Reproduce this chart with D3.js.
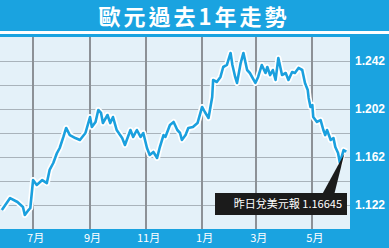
<!DOCTYPE html>
<html>
<head>
    <meta charset="utf-8">
    <title>歐元過去1年走勢</title>
    <script type="text/javascript" src="https://cdn.jsdelivr.net/npm/d3@7/dist/d3.min.js"></script>

    <style type="text/css">
        body {
            margin: 0;
        }

        svg {
            display: block;
        }

        .title {
            font-family: "Noto Sans CJK TC", sans-serif;
            font-weight: bold;
            font-size: 22px;
            fill: #fff;
        }

        .x-axis text {
            font-family: "Noto Sans CJK TC", sans-serif;
            font-size: 11px;
            fill: #fff;
        }

        .y-axis text {
            font-family: "Liberation Sans", Arial, sans-serif;
            font-weight: bold;
            font-size: 12px;
            fill: #fff;
        }

        .note {
            font-family: "Noto Sans CJK TC", sans-serif;
            font-size: 11px;
            fill: #fff;
        }
    </style>
</head>

<body>

<script type="text/javascript">
    var w = 389, h = 248,
            plotLeft = 0, plotRight = 350, plotTop = 37, plotBottom = 229,
            blue = "#1aa3e0";

    // euro vs usd
    var dates = [
        "2017-05-28", "2017-06-06", "2017-06-14", "2017-06-20", "2017-06-22", "2017-06-26", "2017-06-28",
        "2017-07-01", "2017-07-05", "2017-07-11", "2017-07-16", "2017-07-19", "2017-07-23", "2017-07-27",
        "2017-07-30", "2017-08-03", "2017-08-06", "2017-08-10", "2017-08-16", "2017-08-21", "2017-08-27",
        "2017-09-01", "2017-09-03", "2017-09-07", "2017-09-10", "2017-09-13", "2017-09-15", "2017-09-20",
        "2017-09-23", "2017-09-26", "2017-09-30", "2017-10-06", "2017-10-09", "2017-10-15", "2017-10-18",
        "2017-10-22", "2017-10-26", "2017-10-29", "2017-11-02", "2017-11-05", "2017-11-09", "2017-11-13",
        "2017-11-16", "2017-11-20", "2017-11-22", "2017-11-27", "2017-12-01", "2017-12-05", "2017-12-08",
        "2017-12-10", "2017-12-14", "2017-12-17", "2017-12-22", "2017-12-27", "2018-01-01", "2018-01-04",
        "2018-01-08", "2018-01-12", "2018-01-13", "2018-01-17", "2018-01-21", "2018-01-24", "2018-01-28",
        "2018-02-01", "2018-02-03", "2018-02-06", "2018-02-08", "2018-02-12", "2018-02-15", "2018-02-19",
        "2018-02-22", "2018-02-28", "2018-03-03", "2018-03-07", "2018-03-11", "2018-03-13", "2018-03-16",
        "2018-03-19", "2018-03-22", "2018-03-25", "2018-03-29", "2018-04-02", "2018-04-05", "2018-04-09",
        "2018-04-12", "2018-04-16", "2018-04-20", "2018-04-23", "2018-04-26", "2018-04-27", "2018-04-29",
        "2018-05-01", "2018-05-02", "2018-05-06", "2018-05-10", "2018-05-13", "2018-05-15", "2018-05-17",
        "2018-05-21", "2018-05-24", "2018-05-26", "2018-05-29", "2018-05-31", "2018-06-04", "2018-06-07"
    ];

    var rates = [
        1.1178, 1.1278, 1.1245, 1.1203, 1.1137, 1.1178, 1.1195,
        1.1428, 1.1387, 1.1428, 1.1403, 1.1512, 1.1570, 1.1653,
        1.1695, 1.1787, 1.1862, 1.1803, 1.1778, 1.1762, 1.1820,
        1.1953, 1.1870, 1.1912, 1.2012, 1.1987, 1.1903, 1.1970,
        1.1903, 1.1953, 1.1845, 1.1778, 1.1720, 1.1845, 1.1787,
        1.1845, 1.1787, 1.1820, 1.1695, 1.1637, 1.1662, 1.1612,
        1.1703, 1.1803, 1.1787, 1.1887, 1.1912, 1.1845, 1.1820,
        1.1762, 1.1803, 1.1862, 1.1870, 1.1903, 1.2037, 1.1995,
        1.1945, 1.2120, 1.2262, 1.2245, 1.2287, 1.2370, 1.2387,
        1.2487, 1.2387, 1.2287, 1.2237, 1.2403, 1.2487, 1.2345,
        1.2320, 1.2237, 1.2287, 1.2387, 1.2320, 1.2370, 1.2303,
        1.2345, 1.2262, 1.2445, 1.2303, 1.2320, 1.2262, 1.2328,
        1.2320, 1.2362, 1.2345, 1.2237, 1.2178, 1.2112, 1.2037,
        1.2053, 1.1953, 1.1912, 1.1928, 1.1845, 1.1803, 1.1845,
        1.1762, 1.1778, 1.1703, 1.1653, 1.1570, 1.1678, 1.16645
    ];

    var gridValues = [1.122, 1.142, 1.162, 1.182, 1.202, 1.222, 1.242];
    var rateLabels = [1.122, 1.162, 1.202, 1.242];
    var monthDates = ["2017-07-01", "2017-09-01", "2017-11-01", "2018-01-01", "2018-03-01", "2018-05-01"];
    var monthLabels = ["7月", "9月", "11月", "1月", "3月", "5月"];
    var title = "歐元過去1年走勢";
    var notePrefix = "昨日兌美元報 ";

    var parse = d3.timeParse("%Y-%m-%d");
    var data = dates.map(function (d, i) {return {date: parse(d), rate: rates[i]};});
    var months = monthDates.map(parse);

    var x = d3.scaleTime()
            .domain([parse("2017-05-26"), parse("2018-06-11")])
            .range([plotLeft, plotRight]);

    var y = d3.scaleLinear()
            .domain([1.102, 1.262])
            .range([plotBottom, plotTop]);

    var svg = d3.select("body")
            .append("svg")
                .attr("width", w)
                .attr("height", h);

    // background blocks
    svg.append("rect")
            .attr("width", w).attr("height", h)
            .attr("fill", blue);

    svg.append("rect")
            .attr("y", 31).attr("width", w).attr("height", 3)
            .attr("fill", "#fff");

    svg.append("rect")
            .attr("x", plotLeft).attr("y", plotTop)
            .attr("width", plotRight - plotLeft).attr("height", plotBottom - plotTop)
            .attr("fill", "#e4f1f9");

    svg.append("text")
            .attr("class", "title")
            .attr("x", 194).attr("y", 25)
            .attr("text-anchor", "middle")
            .style("letter-spacing", "3px")
            .text(title);

    // grid
    svg.append("g")
        .selectAll("line")
            .data(gridValues)
        .enter().append("line")
            .attr("x1", plotLeft).attr("x2", plotRight)
            .attr("y1", function (d) {return Math.round(y(d)) + 0.5;})
            .attr("y2", function (d) {return Math.round(y(d)) + 0.5;})
            .attr("stroke", "#a9b3bb")
            .attr("stroke-width", 1);

    svg.append("g")
        .selectAll("line")
            .data(months)
        .enter().append("line")
            .attr("x1", function (d) {return Math.round(x(d));})
            .attr("x2", function (d) {return Math.round(x(d));})
            .attr("y1", plotTop).attr("y2", plotBottom)
            .attr("stroke", "#8c9197")
            .attr("stroke-width", 2);

    // axes
    var xAxis = svg.append("g")
            .attr("class", "x-axis")
            .attr("transform", "translate(0," + plotBottom + ")")
            .call(d3.axisBottom(x)
                    .tickValues(months)
                    .tickSize(0)
                    .tickPadding(0)
                    .tickFormat(function (d, i) {return monthLabels[i];}));
    xAxis.select(".domain").remove();
    xAxis.selectAll("text").attr("dx", 2).attr("y", 5).attr("dy", "0.71em");

    var yAxis = svg.append("g")
            .attr("class", "y-axis")
            .attr("transform", "translate(" + plotRight + ",0)")
            .call(d3.axisRight(y)
                    .tickValues(rateLabels)
                    .tickSize(0)
                    .tickPadding(5)
                    .tickFormat(d3.format(".3f")));
    yAxis.select(".domain").remove();

    // rate line
    var line = d3.line()
            .x(function (d) {return x(d.date);})
            .y(function (d) {return y(d.rate);})
            .curve(d3.curveLinear);

    svg.append("path")
            .datum(data)
            .attr("d", line)
            .attr("fill", "none")
            .attr("stroke", "#fff")
            .attr("stroke-width", 6)
            .attr("stroke-linejoin", "round");

    svg.append("path")
            .datum(data)
            .attr("d", line)
            .attr("fill", "none")
            .attr("stroke", "#1ba0de")
            .attr("stroke-width", 2.6)
            .attr("stroke-linejoin", "round");

    // note for the last value
    var last = data[data.length - 1];
    var tipX = x(last.date) - 2, tipY = y(last.rate) + 2;

    svg.append("path")
            .attr("d", "M" + (tipX - 22) + ",194L" + (tipX - 10) + ",194L" + tipX + "," + tipY + "Z")
            .attr("fill", "#1b1b1b");

    svg.append("rect")
            .attr("x", 215).attr("y", 193)
            .attr("width", 132).attr("height", 22)
            .attr("fill", "#1b1b1b");

    svg.append("text")
            .attr("class", "note")
            .attr("x", 342).attr("y", 208)
            .attr("text-anchor", "end")
            .text(notePrefix + last.rate.toFixed(5));
</script>

</body>

</html>
